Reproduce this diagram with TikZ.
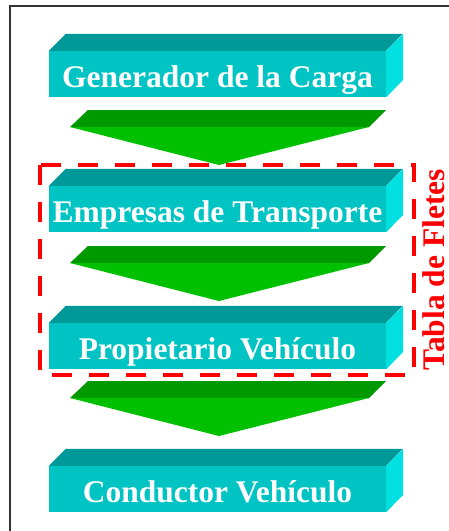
\documentclass[tikz,border=0pt]{standalone}
\usepackage{fontspec}
\setmainfont{Liberation Serif}
\definecolor{frontc}{HTML}{00C4C4}
\definecolor{topc}{HTML}{009999}
\definecolor{sidec}{HTML}{00E0E0}
\definecolor{gdark}{HTML}{009900}
\definecolor{glight}{HTML}{00C000}
\definecolor{framec}{HTML}{333333}
\tikzset{
  boxfront/.style={fill=frontc, draw=none, minimum width=337pt, minimum height=46pt, inner sep=0pt,
    text height=26pt, text depth=0pt,
    text=white, font=\fontsize{31.5}{36}\selectfont\bfseries},
  boxtop/.style={fill=topc, draw=none},
  boxside/.style={fill=sidec, draw=none},
  banddark/.style={fill=gdark, draw=none},
  bandlight/.style={fill=glight, draw=none},
  groupline/.style={draw=red, line width=4.5pt, dash pattern=on 20pt off 17pt},
  grouplabel/.style={text=red, font=\fontsize{31.5}{36}\selectfont\bfseries, rotate=90, inner sep=0pt},
}
\newcommand{\solidbox}[3]{%
  \node[boxfront] (#1) at (217.5,#2+23) {#3};
  \fill[boxtop] (#1.north west) -- ++(17,-17) -- ++(337,0) -- (#1.north east) -- cycle;
  \fill[boxside] (#1.north east) -- ++(17,-17) -- ++(0,46) -- (#1.south east) -- cycle;
}
\newcommand{\flowarrow}[2]{%
  \coordinate (#1) at (219,#2);
  \fill[banddark] ($(#1)+(-131,0)$) -- ($(#1)+(167,0)$) -- ($(#1)+(150,17)$) -- ($(#1)+(-149,17)$) -- cycle;
  \fill[bandlight] ($(#1)+(-149,17)$) -- ($(#1)+(150,17)$) -- ($(#1)+(0,55)$) -- cycle;
}
\usetikzlibrary{calc}
\begin{document}
\begin{tikzpicture}[x=1pt,y=-1pt]
\useasboundingbox (0,0) rectangle (449,531);
\draw[framec, line width=2pt] (10,531) -- (10,6) -- (449,6);
\solidbox{b1}{51}{Generador de la Carga}
\solidbox{b2}{186}{Empresas de Transporte}
\solidbox{b3}{323}{Propietario Vehículo}
\solidbox{b4}{466}{Conductor Vehículo}
\flowarrow{a1}{110}
\flowarrow{a2}{246}
\flowarrow{a3}{381}
\coordinate (g1) at (40,165);
\coordinate (g2) at (414,375);
\draw[groupline] (g1) rectangle (g2);
\node[grouplabel] (tf) at (434,270) {Tabla de Fletes};
\end{tikzpicture}
\end{document}
